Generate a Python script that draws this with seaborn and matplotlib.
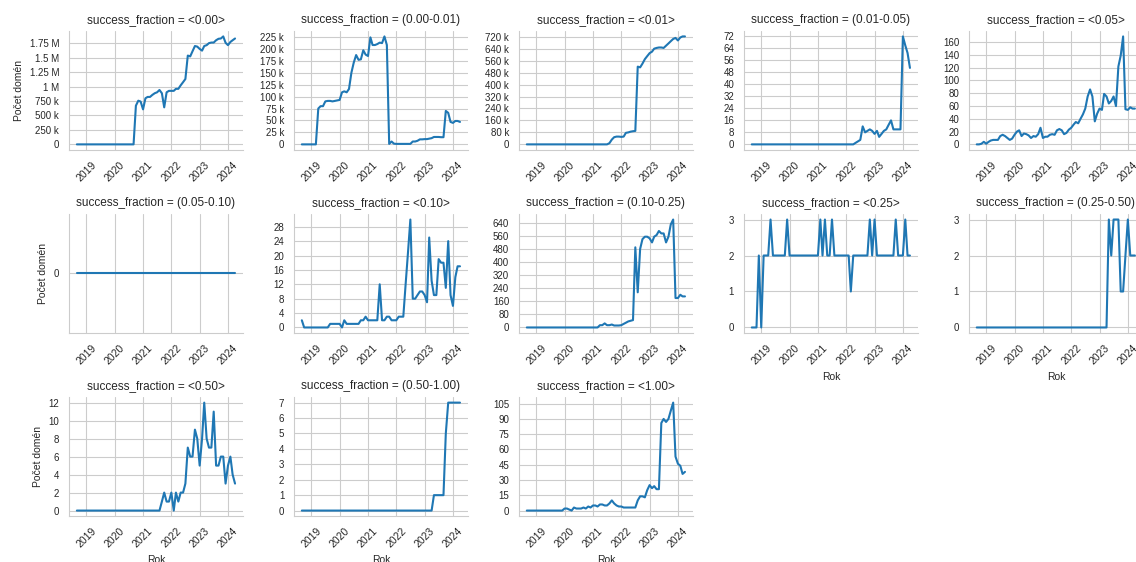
import pandas as pd
import matplotlib.pyplot as plt
import matplotlib.ticker as mticker
import seaborn as sns

# monthly snapshots, Sep 2018 .. Apr 2024
months = pd.date_range("2018-09-01", "2024-04-01", freq="MS")

bins = ["<0.00>", "(0.00-0.01)", "<0.01>", "(0.01-0.05)", "<0.05>",
        "(0.05-0.10)", "<0.10>", "(0.10-0.25)", "<0.25>", "(0.25-0.50)",
        "<0.50>", "(0.50-1.00)", "<1.00>"]

cnt_000 = [0, 0, 0, 0, 0, 0, 0, 0, 0, 0, 0, 0, 0, 0, 0, 0, 0, 0, 0, 0,
           0, 0, 0, 0, 0, 669000, 755000, 740000, 605000, 797000, 820000, 820000,
           855000, 884000, 900000, 940000, 884000, 640000, 900000, 925000, 925000,
           925000, 960000, 960000, 1020000, 1075000, 1130000, 1535000, 1520000,
           1610000, 1700000, 1690000, 1650000, 1620000, 1700000, 1715000, 1750000,
           1760000, 1760000, 1800000, 1825000, 1830000, 1866000, 1756000, 1715000,
           1770000, 1800000, 1830000]
cnt_000_001 = [0, 0, 0, 0, 0, 0, 0, 75000, 80000, 80000, 90000, 91000, 91000, 90000,
               91000, 92000, 93000, 109000, 111000, 109000, 116000, 150000, 171000,
               187000, 177000, 178000, 197000, 188000, 185000, 224000, 208000, 208000,
               210000, 213000, 212000, 226000, 208000, 1000, 6000, 1500, 1000, 1000,
               1000, 1000, 1000, 1000, 1000, 6000, 6000, 7500, 10500, 10500, 11000,
               11000, 12000, 13000, 15500, 15500, 15500, 15000, 15000, 70000, 66000,
               47000, 45000, 49000, 49000, 47000]
cnt_001 = [0, 0, 0, 0, 0, 0, 0, 0, 0, 0, 0, 0, 0, 0, 0, 0, 0, 0, 0, 0,
           0, 0, 0, 0, 0, 0, 0, 0, 0, 0, 0, 0, 0, 0, 0, 8000, 32000, 48000, 52000,
           52000, 50000, 52000, 77000, 80000, 85000, 88000, 90000, 520000, 515000,
           540000, 570000, 590000, 610000, 620000, 640000, 645000, 648000, 648000,
           645000, 660000, 675000, 690000, 705000, 712000, 695000, 715000, 722000,
           722000]
cnt_001_005 = [0, 0, 0, 0, 0, 0, 0, 0, 0, 0, 0, 0, 0, 0, 0, 0, 0, 0, 0, 0,
               0, 0, 0, 0, 0, 0, 0, 0, 0, 0, 0, 0, 0, 0, 0, 0, 0, 0, 0, 0,
               0, 0, 0, 0, 1, 2, 3, 12, 8, 9, 10, 9, 7, 9, 5, 7, 9, 10, 13, 16,
               10, 10, 10, 10, 72, 66, 61, 51]
cnt_005 = [0, 0, 1, 4, 1, 4, 6, 7, 7, 7, 13, 15, 13, 10, 7, 9, 15, 20, 22, 13,
           17, 16, 14, 10, 13, 12, 16, 26, 10, 12, 12, 15, 16, 15, 22, 24, 22, 16,
           18, 23, 26, 31, 35, 33, 40, 47, 56, 75, 86, 75, 36, 48, 56, 54, 79, 75,
           64, 68, 75, 60, 122, 139, 169, 55, 54, 58, 56, 56]
cnt_005_010 = [0, 0, 0, 0, 0, 0, 0, 0, 0, 0, 0, 0, 0, 0, 0, 0, 0, 0, 0, 0,
               0, 0, 0, 0, 0, 0, 0, 0, 0, 0, 0, 0, 0, 0, 0, 0, 0, 0, 0, 0,
               0, 0, 0, 0, 0, 0, 0, 0, 0, 0, 0, 0, 0, 0, 0, 0, 0, 0, 0, 0,
               0, 0, 0, 0, 0, 0, 0, 0]
cnt_010 = [2, 0, 0, 0, 0, 0, 0, 0, 0, 0, 0, 0, 1, 1, 1, 1, 1, 0, 2, 1,
           1, 1, 1, 1, 1, 2, 2, 3, 2, 2, 2, 2, 2, 12, 2, 2, 3, 3, 2, 2,
           2, 3, 3, 3, 12, 21, 30, 8, 8, 9, 10, 10, 9, 7, 25, 13, 9, 9, 19, 18,
           18, 11, 24, 9, 6, 14, 17, 17]
cnt_010_025 = [0, 0, 0, 0, 0, 0, 0, 0, 0, 0, 0, 0, 0, 0, 0, 0, 0, 0, 0, 0,
               0, 0, 0, 0, 0, 0, 0, 0, 0, 0, 0, 14, 14, 25, 14, 14, 18, 12, 12, 12,
               14, 22, 29, 37, 41, 45, 490, 215, 480, 540, 555, 555, 545, 520, 555,
               565, 590, 575, 575, 520, 555, 630, 660, 180, 180, 200, 190, 190]
cnt_025 = [0, 0, 0, 2, 0, 2, 2, 2, 3, 2, 2, 2, 2, 2, 2, 3, 2, 2, 2, 2,
           2, 2, 2, 2, 2, 2, 2, 2, 2, 3, 2, 3, 2, 2, 3, 2, 2, 2, 2, 2,
           2, 2, 1, 2, 2, 2, 2, 2, 2, 2, 3, 2, 3, 2, 2, 2, 2, 2, 2, 2,
           2, 3, 2, 2, 2, 3, 2, 2]
cnt_025_050 = [0, 0, 0, 0, 0, 0, 0, 0, 0, 0, 0, 0, 0, 0, 0, 0, 0, 0, 0, 0,
               0, 0, 0, 0, 0, 0, 0, 0, 0, 0, 0, 0, 0, 0, 0, 0, 0, 0, 0, 0,
               0, 0, 0, 0, 0, 0, 0, 0, 0, 0, 0, 0, 0, 0, 0, 0, 3, 2, 3, 3,
               3, 1, 1, 2, 3, 2, 2, 2]
cnt_050 = [0, 0, 0, 0, 0, 0, 0, 0, 0, 0, 0, 0, 0, 0, 0, 0, 0, 0, 0, 0,
           0, 0, 0, 0, 0, 0, 0, 0, 0, 0, 0, 0, 0, 0, 0, 0, 1, 2, 1, 1,
           2, 0, 2, 1, 2, 2, 3, 7, 6, 6, 9, 8, 5, 8, 12, 8, 7, 7, 11, 5,
           5, 6, 6, 3, 5, 6, 4, 3]
cnt_050_100 = [0, 0, 0, 0, 0, 0, 0, 0, 0, 0, 0, 0, 0, 0, 0, 0, 0, 0, 0, 0,
               0, 0, 0, 0, 0, 0, 0, 0, 0, 0, 0, 0, 0, 0, 0, 0, 0, 0, 0, 0,
               0, 0, 0, 0, 0, 0, 0, 0, 0, 0, 0, 0, 0, 0, 0, 0, 1, 1, 1, 1,
               1, 5, 7, 7, 7, 7, 7, 7]
cnt_100 = [0, 0, 0, 0, 0, 0, 0, 0, 0, 0, 0, 0, 0, 0, 0, 0, 2, 2, 1, 0,
           3, 2, 2, 2, 3, 2, 4, 3, 5, 5, 4, 6, 6, 5, 5, 7, 10, 7, 5, 4,
           4, 3, 3, 3, 3, 3, 3, 10, 14, 14, 13, 20, 25, 22, 24, 21, 21, 86, 90, 87,
           90, 98, 106, 53, 46, 44, 36, 38]

series = [cnt_000, cnt_000_001, cnt_001, cnt_001_005, cnt_005, cnt_005_010,
          cnt_010, cnt_010_025, cnt_025, cnt_025_050, cnt_050, cnt_050_100, cnt_100]

frames = []
for b, vals in zip(bins, series):
    frames.append(pd.DataFrame({"Rok": months, "success_fraction": b, "count": vals}))
df = pd.concat(frames, ignore_index=True)
df["success_fraction"] = pd.Categorical(df["success_fraction"], categories=bins)

sns.set_style("whitegrid")
plt.rcParams["font.family"] = ["Liberation Sans", "DejaVu Sans"]
plt.rcParams["xtick.labelsize"] = 7.5
plt.rcParams["ytick.labelsize"] = 7
plt.rcParams["axes.labelsize"] = 7.5

g = sns.relplot(data=df, x="Rok", y="count", col="success_fraction", col_wrap=5,
                kind="line", height=1.9, aspect=1.2, linewidth=1.5,
                facet_kws=dict(sharey=False))
g.set_axis_labels("Rok", "Počet domén")
g.set_titles(col_template="{col_var} = {col_name}", size=8.5)

# whole-number counts, engineering suffixes (k, M)
for ax in g.axes.flat:
    ax.yaxis.set_major_locator(mticker.MaxNLocator(integer=True, min_n_ticks=1))
    ax.yaxis.set_major_formatter(mticker.EngFormatter())
    ax.tick_params(axis="x", labelbottom=True, rotation=45)

g.figure.set_size_inches(11.36, 5.62)
g.figure.subplots_adjust(left=0.0607, right=1.006, top=0.9448, bottom=0.0819,
                         wspace=0.293, hspace=0.542)
g.figure.savefig("out.png", dpi=100)
